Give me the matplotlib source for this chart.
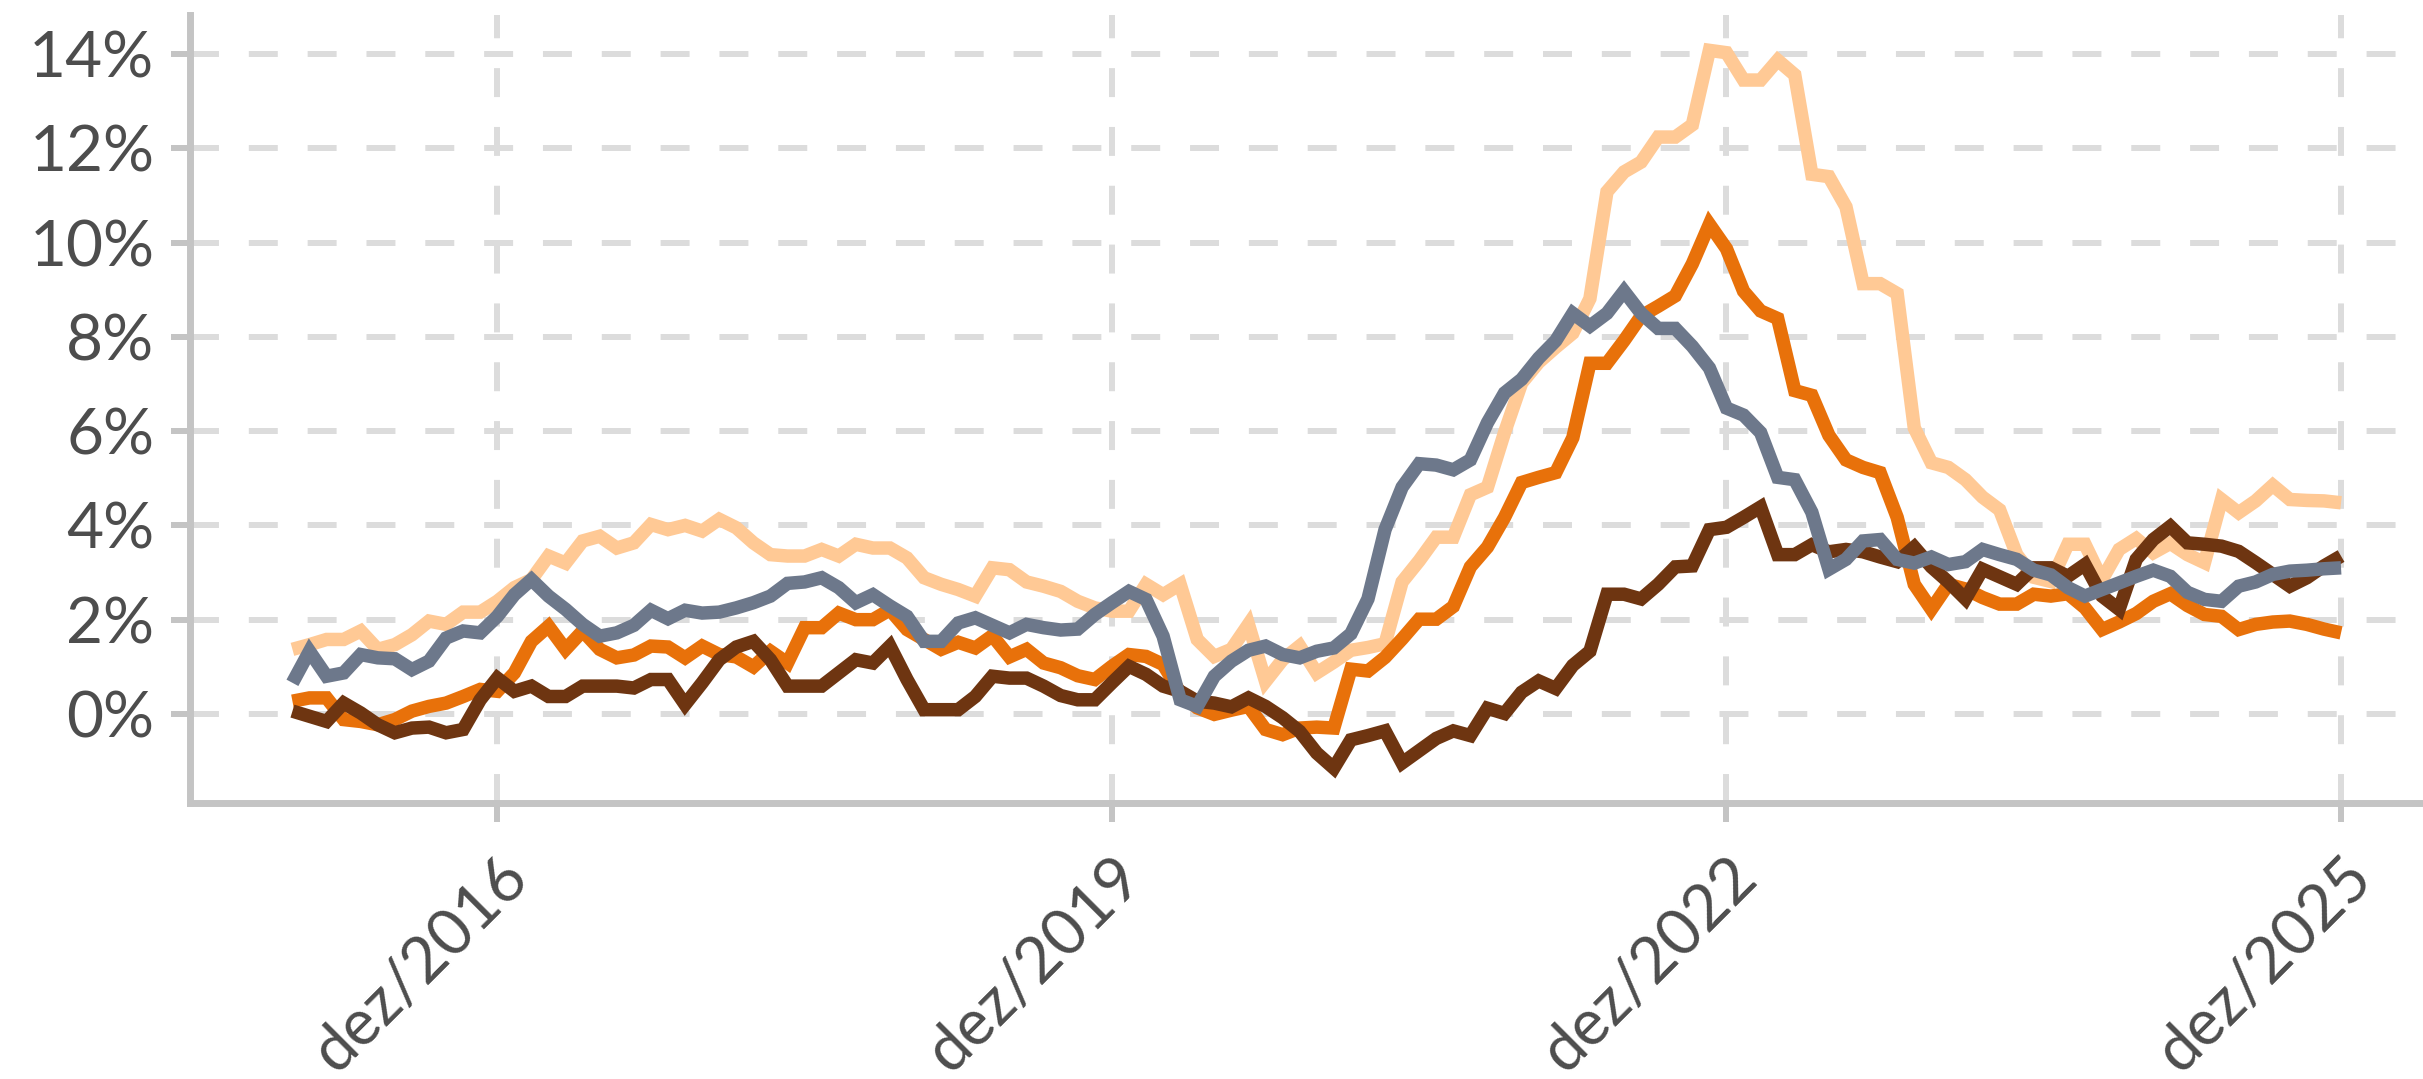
import matplotlib.pyplot as plt
import numpy as np

# monthly series, dez/2015 .. dez/2025 (121 points), % in 12 months
serie_clara = [
    1.37, 1.47, 1.58, 1.58, 1.76, 1.37, 1.47, 1.68, 1.97, 1.90,
    2.16, 2.16, 2.39, 2.68, 2.85, 3.35, 3.20, 3.67, 3.77, 3.52,
    3.63, 4.02, 3.91, 4.00, 3.88, 4.13, 3.95, 3.63, 3.38, 3.35,
    3.35, 3.49, 3.35, 3.60, 3.52, 3.52, 3.31, 2.89, 2.75, 2.64,
    2.50, 3.10, 3.06, 2.80, 2.71, 2.60, 2.39, 2.25, 2.18, 2.18,
    2.75, 2.53, 2.75, 1.58, 1.22, 1.37, 1.90, 0.69, 1.15, 1.44,
    0.87, 1.10, 1.35, 1.41, 1.49, 2.80, 3.25, 3.75, 3.75, 4.65,
    4.81, 5.97, 7.02, 7.46, 7.78, 8.08, 8.81, 11.08, 11.50, 11.71,
    12.24, 12.24, 12.50, 14.08, 14.03, 13.45, 13.45, 13.87, 13.56, 11.45,
    11.40, 10.76, 9.13, 9.13, 8.92, 6.07, 5.33, 5.23, 4.97, 4.60,
    4.33, 3.38, 2.90, 2.81, 3.60, 3.60, 2.85, 3.49, 3.72, 3.42,
    3.62, 3.38, 3.21, 4.55, 4.27, 4.52, 4.85, 4.55, 4.53, 4.52,
    4.48]
serie_laranja = [
    0.27, 0.34, 0.34, -0.12, -0.16, -0.23, -0.12, 0.06, 0.16, 0.23,
    0.37, 0.52, 0.48, 0.87, 1.54, 1.86, 1.37, 1.76, 1.37, 1.19,
    1.25, 1.44, 1.42, 1.19, 1.44, 1.26, 1.21, 1.00, 1.33, 1.08,
    1.83, 1.83, 2.14, 2.00, 2.00, 2.21, 1.79, 1.58, 1.37, 1.52,
    1.40, 1.66, 1.21, 1.37, 1.08, 0.98, 0.81, 0.73, 1.01, 1.26,
    1.22, 1.05, 0.45, 0.13, -0.01, 0.08, 0.16, -0.33, -0.44, -0.30,
    -0.28, -0.30, 0.95, 0.91, 1.20, 1.59, 2.01, 2.01, 2.28, 3.12,
    3.54, 4.17, 4.91, 5.02, 5.12, 5.86, 7.44, 7.44, 7.92, 8.44,
    8.65, 8.87, 9.55, 10.39, 9.87, 8.97, 8.55, 8.39, 6.86, 6.76,
    5.91, 5.39, 5.23, 5.12, 4.17, 2.75, 2.22, 2.75, 2.65, 2.47,
    2.33, 2.33, 2.54, 2.50, 2.55, 2.25, 1.79, 1.95, 2.13, 2.39,
    2.55, 2.30, 2.11, 2.07, 1.79, 1.90, 1.95, 1.97, 1.90, 1.80,
    1.72]
serie_marrom = [
    0.06, -0.05, -0.16, 0.23, 0.02, -0.23, -0.40, -0.30, -0.28, -0.40,
    -0.33, 0.30, 0.76, 0.48, 0.59, 0.37, 0.37, 0.59, 0.59, 0.59,
    0.55, 0.73, 0.73, 0.20, 0.66, 1.15, 1.42, 1.54, 1.15, 0.59,
    0.59, 0.59, 0.87, 1.15, 1.08, 1.44, 0.73, 0.09, 0.09, 0.09,
    0.37, 0.80, 0.76, 0.76, 0.59, 0.39, 0.30, 0.30, 0.66, 1.01,
    0.84, 0.59, 0.48, 0.27, 0.23, 0.15, 0.34, 0.16, -0.08, -0.37,
    -0.83, -1.15, -0.55, -0.46, -0.36, -1.04, -0.78, -0.52, -0.36, -0.46,
    0.12, 0.01, 0.46, 0.70, 0.54, 1.03, 1.33, 2.54, 2.54, 2.44,
    2.75, 3.12, 3.14, 3.91, 3.96, 4.17, 4.39, 3.38, 3.38, 3.59,
    3.44, 3.49, 3.44, 3.33, 3.23, 3.54, 3.12, 2.80, 2.44, 3.07,
    2.91, 2.75, 3.10, 3.10, 2.92, 3.17, 2.50, 2.22, 3.28, 3.70,
    3.98, 3.63, 3.60, 3.56, 3.45, 3.21, 2.96, 2.71, 2.89, 3.14,
    3.35]
serie_cinza = [
    0.66, 1.33, 0.80, 0.87, 1.26, 1.19, 1.17, 0.94, 1.12, 1.61,
    1.76, 1.72, 2.07, 2.53, 2.85, 2.50, 2.22, 1.90, 1.65, 1.72,
    1.88, 2.20, 2.02, 2.20, 2.14, 2.16, 2.25, 2.36, 2.50, 2.77,
    2.80, 2.89, 2.68, 2.36, 2.53, 2.29, 2.07, 1.54, 1.54, 1.93,
    2.04, 1.88, 1.72, 1.90, 1.83, 1.78, 1.80, 2.11, 2.36, 2.60,
    2.43, 1.65, 0.30, 0.16, 0.80, 1.12, 1.35, 1.44, 1.26, 1.19,
    1.33, 1.40, 1.70, 2.44, 3.91, 4.81, 5.31, 5.28, 5.18, 5.39,
    6.18, 6.81, 7.10, 7.55, 7.92, 8.50, 8.23, 8.50, 8.97, 8.50,
    8.18, 8.18, 7.80, 7.34, 6.49, 6.34, 5.97, 5.02, 4.97, 4.28,
    3.07, 3.28, 3.67, 3.70, 3.28, 3.20, 3.33, 3.17, 3.23, 3.49,
    3.38, 3.28, 3.05, 2.95, 2.68, 2.50, 2.64, 2.78, 2.92, 3.05,
    2.92, 2.58, 2.43, 2.39, 2.71, 2.80, 2.96, 3.03, 3.05, 3.08,
    3.10]

xtick_pos = [12, 48, 84, 120]
xtick_labels = ["dez/2016", "dez/2019", "dez/2022", "dez/2025"]
ytick_vals = [0, 2, 4, 6, 8, 10, 12, 14]
ytick_labels = ["0%", "2%", "4%", "6%", "8%", "10%", "12%", "14%"]

cores = ["#FFC995", "#E8710A", "#6E3511", "#6D788B"]

plt.rcParams['font.family'] = ['Lato', 'DejaVu Sans']

fig = plt.figure(figsize=(24.23, 10.79), dpi=100)
ax = fig.add_axes([190 / 2423, 1 - 803 / 1079, 1 - 190 / 2423, (803 - 15) / 1079])

x = np.arange(len(serie_clara))
for serie, cor in zip([serie_clara, serie_laranja, serie_marrom, serie_cinza], cores):
    ax.plot(x, serie, color=cor, lw=9.7, solid_capstyle='butt', solid_joinstyle='miter')

ax.set_xlim(-6, 124.8)
ax.set_ylim(-1.89, 14.83)
ax.set_xticks(xtick_pos)
ax.set_xticklabels(xtick_labels, rotation=45, ha='right', va='top', rotation_mode='anchor')
ax.set_yticks(ytick_vals)
ax.set_yticklabels(ytick_labels)

# dashed grid, ~29px dash / 30px gap
ax.grid(True, color='#DCDCDC', linewidth=4.3, linestyle=(0, (4.85, 5.0)))
ax.set_axisbelow(True)

for s in ['top', 'right']:
    ax.spines[s].set_visible(False)
for s in ['left', 'bottom']:
    ax.spines[s].set_color('#C4C4C4')
    ax.spines[s].set_linewidth(5)

ax.tick_params(axis='both', length=13.7, width=4.3, color='#C4C4C4',
               labelsize=46, labelcolor='#4D4D4D')
ax.tick_params(axis='y', pad=12)
ax.tick_params(axis='x', pad=18)

fig.savefig('out.png', dpi=100)
